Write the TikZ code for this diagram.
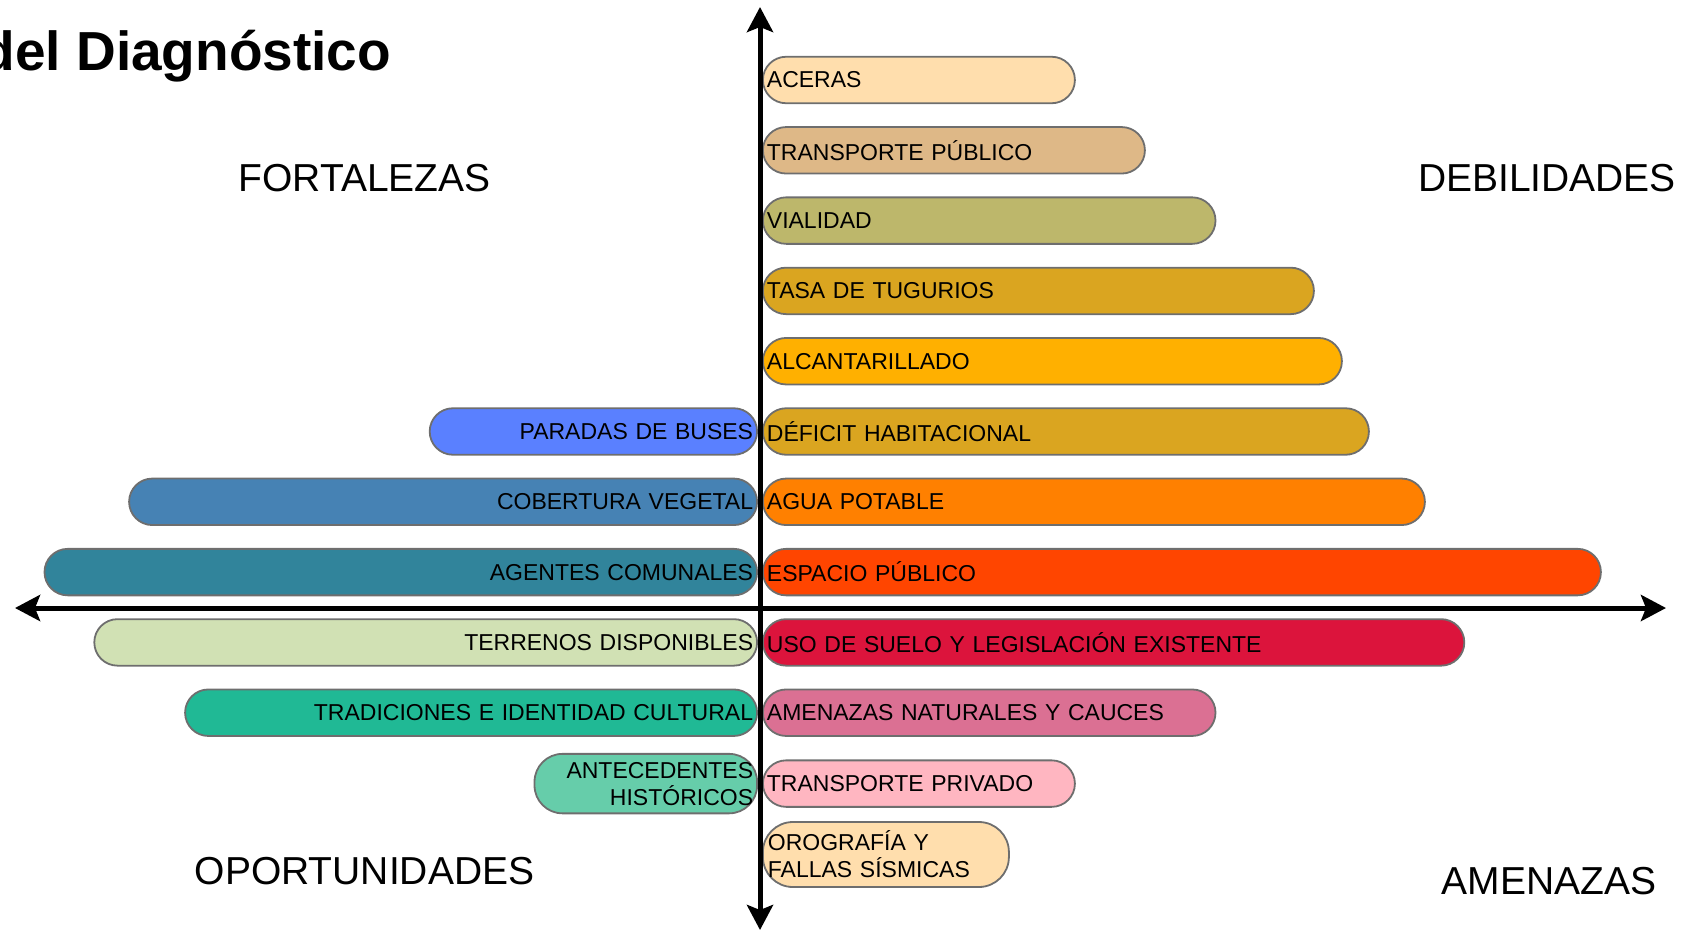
\documentclass[tikz,border=0pt]{standalone}
\usepackage{fontspec}
\setmainfont{Liberation Sans}
\usetikzlibrary{arrows.meta}

\definecolor{barline}{HTML}{6E6E6E}
\definecolor{cAceras}{HTML}{FFDEAD}
\definecolor{cTpub}{HTML}{DEB887}
\definecolor{cVial}{HTML}{BDB76B}
\definecolor{cTug}{HTML}{DAA520}
\definecolor{cAlc}{HTML}{FFB000}
\definecolor{cDef}{HTML}{DAA520}
\definecolor{cAgua}{HTML}{FF8000}
\definecolor{cEsp}{HTML}{FF4500}
\definecolor{cUso}{HTML}{DC143C}
\definecolor{cAmn}{HTML}{DB7093}
\definecolor{cTpriv}{HTML}{FFB6C1}
\definecolor{cOro}{HTML}{FFDEAD}
\definecolor{cPar}{HTML}{5A80FF}
\definecolor{cCob}{HTML}{4682B4}
\definecolor{cAge}{HTML}{31849B}
\definecolor{cTer}{HTML}{D1E1B4}
\definecolor{cTra}{HTML}{20B995}
\definecolor{cAnt}{HTML}{66CDAA}

\begin{document}
\begin{tikzpicture}[
		x=0.5pt, y=-0.5pt
		,bar/.style={draw=barline, line width=0.9pt, rounded corners=11.6pt, minimum height=23.25pt, inner xsep=2pt, inner ysep=0pt, font=\fontsize{11.5}{13.5}\selectfont}
		,rb/.style={bar, anchor=west, align=left, text width=#1}
		,lb/.style={bar, anchor=east, align=right, text width=#1}
		,quad/.style={font=\fontsize{19.5}{22}\selectfont}
		,axis/.style={line width=2.5pt, {Stealth[length=12.5pt,width=13pt,inset=2.5pt]}-{Stealth[length=12.5pt,width=13pt,inset=2.5pt]}}
	]
		\useasboundingbox (0,0) rectangle (1696,932);

		\node [anchor=base east, inner sep=0pt, font=\fontsize{27.5}{30}\selectfont\bfseries] (titulo) at (391.5,70) {del Diagnóstico};

		% debilidades y amenazas
		\node [rb=152pt, fill=cAceras] (aceras) at (762,80) {ACERAS};
		\node [rb=187pt, fill=cTpub] (tpub) at (762,150.3) {TRANSPORTE PÚBLICO};
		\node [rb=222.3pt, fill=cVial] (vial) at (762,220.6) {VIALIDAD};
		\node [rb=271.5pt, fill=cTug] (tug) at (762,290.9) {TASA DE TUGURIOS};
		\node [rb=285.5pt, fill=cAlc] (alc) at (762,361.2) {ALCANTARILLADO};
		\node [rb=299pt, fill=cDef] (def) at (762,431.5) {DÉFICIT HABITACIONAL};
		\node [rb=327pt, fill=cAgua] (agua) at (762,501.8) {AGUA POTABLE};
		\node [rb=415pt, fill=cEsp] (esp) at (762,572.1) {ESPACIO PÚBLICO};
		\node [rb=346.7pt, fill=cUso] (uso) at (762,642.4) {USO DE SUELO Y LEGISLACIÓN EXISTENTE};
		\node [rb=222.3pt, fill=cAmn] (amn) at (762,712.7) {AMENAZAS NATURALES Y CAUCES};
		\node [rb=152pt, fill=cTpriv] (tpriv) at (762,783.6) {TRANSPORTE PRIVADO};
		\node [rb=118pt, fill=cOro, minimum height=32.5pt, rounded corners=15pt, inner xsep=2.5pt] (oro) at (762,854.5) {OROGRAFÍA Y\\FALLAS SÍSMICAS};

		% fortalezas y oportunidades
		\node [lb=159.7pt, fill=cPar] (par) at (758,431.5) {PARADAS DE BUSES};
		\node [lb=310pt, fill=cCob] (cob) at (758,501.8) {COBERTURA VEGETAL};
		\node [lb=352.3pt, fill=cAge] (age) at (758,572.1) {AGENTES COMUNALES};
		\node [lb=327.4pt, fill=cTer] (ter) at (758,642.4) {TERRENOS DISPONIBLES};
		\node [lb=282pt, fill=cTra] (tra) at (758,712.7) {TRADICIONES E IDENTIDAD CULTURAL};
		\node [lb=107.3pt, fill=cAnt, minimum height=29.75pt, rounded corners=14pt] (ant) at (758,783.6) {ANTECEDENTES\\HISTÓRICOS};

		% cuadrantes
		\node [quad] (fort) at (364.5,178.5) {FORTALEZAS};
		\node [quad] (deb) at (1547,178.5) {DEBILIDADES};
		\node [quad] (opo) at (364.5,870.7) {OPORTUNIDADES};
		\node [quad] (ame) at (1549,881.5) {AMENAZAS};

		% ejes
		\coordinate (arriba) at (760,7);
		\coordinate (abajo) at (760,930);
		\coordinate (izq) at (15,608);
		\coordinate (der) at (1666,608);
		\draw [axis] (izq) -- (der);
		\draw [axis] (abajo) -- (arriba);
	\end{tikzpicture}
\end{document}
